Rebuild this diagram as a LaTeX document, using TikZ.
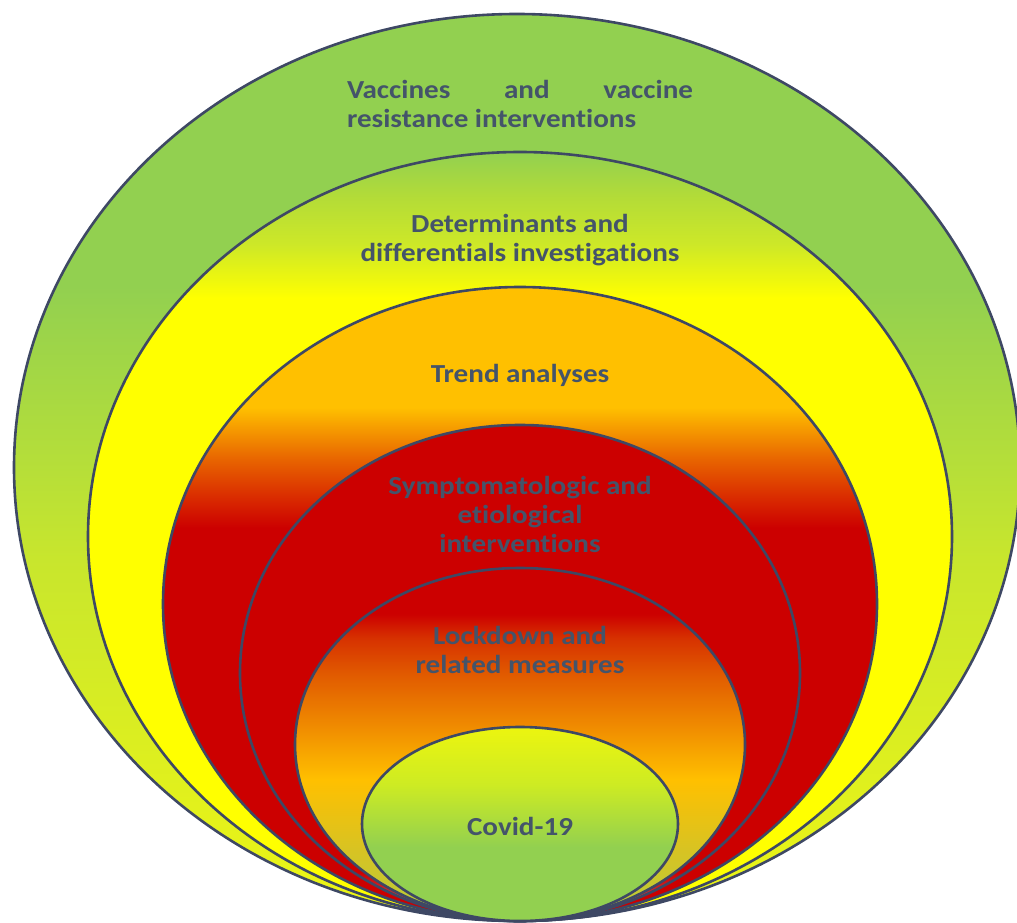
\documentclass[tikz,border=0pt]{standalone}
\usepackage{fontspec}
\setmainfont{Carlito}[FakeStretch=1.12, RawFeature={-liga;-calt;-dlig;-clig}]
\usetikzlibrary{shapes.geometric}

\definecolor{txt}{RGB}{68,84,106}
\definecolor{edge}{RGB}{62,72,100}
\definecolor{gA}{RGB}{146,208,80}
\definecolor{gB}{RGB}{200,230,45}
\definecolor{gC}{RGB}{238,246,20}
\definecolor{yA}{RGB}{255,255,0}
\definecolor{yB}{RGB}{205,232,40}
\definecolor{yC}{RGB}{180,220,55}
\definecolor{oA}{RGB}{255,192,0}
\definecolor{oB}{RGB}{232,100,0}
\definecolor{oC}{RGB}{218,45,0}
\definecolor{rA}{RGB}{204,0,0}
\definecolor{rP}{RGB}{215,100,110}
\definecolor{lB}{RGB}{215,50,0}
\definecolor{lC}{RGB}{225,90,0}
\definecolor{lD}{RGB}{240,140,0}
\definecolor{lE}{RGB}{215,195,35}
\definecolor{lF}{RGB}{180,205,60}
\definecolor{cA}{RGB}{236,245,15}
\definecolor{cB}{RGB}{205,235,35}

\pgfdeclareverticalshading{sone}{100bp}{color(0bp)=(gC); color(25bp)=(gC); color(45bp)=(gB); color(60bp)=(gA); color(100bp)=(gA)}
\pgfdeclareverticalshading{stwo}{100bp}{color(0bp)=(yA); color(25bp)=(yA); color(65.5bp)=(yA); color(69bp)=(yB); color(72bp)=(yC); color(75bp)=(gA); color(100bp)=(gA)}
\pgfdeclareverticalshading{sthree}{100bp}{color(0bp)=(rA); color(56bp)=(rA); color(58.5bp)=(oC); color(61.4bp)=(oB); color(65.5bp)=(oA); color(100bp)=(oA)}
\pgfdeclareverticalshading{sfour}{100bp}{color(0bp)=(rP); color(25bp)=(rP); color(30bp)=(rA); color(100bp)=(rA)}
\pgfdeclareverticalshading{sfive}{100bp}{color(0bp)=(lF); color(25bp)=(lF); color(35bp)=(lE); color(45bp)=(oA); color(52.5bp)=(lD); color(60bp)=(lC); color(65bp)=(lB); color(68.5bp)=(rA); color(100bp)=(rA)}
\pgfdeclareverticalshading{ssix}{100bp}{color(0bp)=(gA); color(44bp)=(gA); color(60bp)=(cB); color(75bp)=(cA); color(100bp)=(cA)}

\tikzset{
  ring/.style={ellipse, draw=edge, line width=2.6pt, inner sep=0pt, outer sep=0pt},
  lbl/.style={text=txt, font=\bfseries\fontsize{26}{29}\selectfont, align=center, inner sep=0pt}
}

\begin{document}
\begin{tikzpicture}[x=1pt, y=-1pt]
\useasboundingbox (0,0) rectangle (1017,923);
\clip (0,0) rectangle (1017,923);

\node[ring, minimum width=1006pt, minimum height=907pt, shading=sone] (e1) at (517,467.5) {};
\node[ring, minimum width=864pt, minimum height=769pt, shading=stwo] (e2) at (520,536.5) {};
\node[ring, minimum width=714pt, minimum height=634pt, shading=sthree] (e3) at (520,604) {};
\node[ring, minimum width=560pt, minimum height=496pt, shading=sfour] (e4) at (520,673) {};
\node[ring, minimum width=450pt, minimum height=353pt, shading=sfive] (e5) at (520,744.5) {};
\node[ring, minimum width=316pt, minimum height=194pt, shading=ssix] (e6) at (520,824) {};

\node[lbl, align=flush left, text width=346pt] (t1) at (520,104)
  {\hbox to 346pt{Vaccines\hfill and\hfill vaccine}\\resistance interventions};
\node[lbl] (t2) at (520,240) {Determinants and\\differentials investigations};
\node[lbl] (t3) at (520,375) {Trend analyses};
\node[lbl] (t4) at (520,514) {Symptomatologic and\\etiological\\interventions};
\node[lbl] (t5) at (520,650) {Lockdown and\\related measures};
\node[lbl] (t6) at (520,826) {Covid-19};
\end{tikzpicture}
\end{document}
